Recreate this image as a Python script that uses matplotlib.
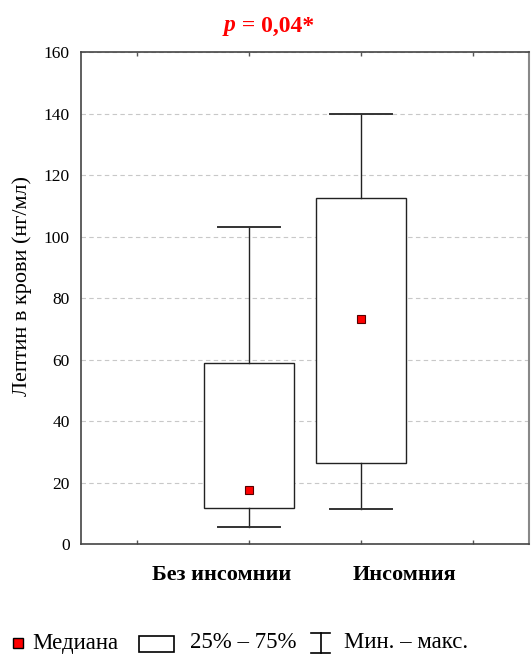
import matplotlib
matplotlib.use("Agg")
import matplotlib.pyplot as plt
from matplotlib.lines import Line2D
from matplotlib.patches import Rectangle

plt.rcParams["font.family"] = ["Liberation Serif", "DejaVu Serif"]

# Data
groups = ["Без инсомнии", "Инсомния"]
medians = [17.7, 73.2]
q1 = [11.7, 26.4]
q3 = [59.0, 112.7]
mins = [5.6, 11.6]
maxs = [103.3, 139.9]
positions = [1.5, 2.5]
y_ticks = [0, 20, 40, 60, 80, 100, 120, 140, 160]

W, H = 531, 655
fig = plt.figure(figsize=(W / 100, H / 100), dpi=100, facecolor="white")
ax = fig.add_axes([81 / W, (H - 544.3) / H, 448 / W, 492 / H])

stats = []
for g, m, lo, hi, mn, mx in zip(groups, medians, q1, q3, mins, maxs):
    stats.append(dict(label=g, med=m, q1=lo, q3=hi, whislo=mn, whishi=mx, fliers=[]))

ax.bxp(stats, positions=positions, widths=0.8, capwidths=0.55,
       showfliers=False, patch_artist=True,
       boxprops=dict(facecolor="white", edgecolor="#222222", linewidth=1.0),
       whiskerprops=dict(color="#222222", linewidth=1.0),
       capprops=dict(color="#333333", linewidth=1.4),
       medianprops=dict(linewidth=0, alpha=0),
       zorder=3)
ax.plot(positions, medians, ls="none", marker="s", markersize=5.5,
        markerfacecolor="#ff0000", markeredgecolor="#550000",
        markeredgewidth=0.8, zorder=5)

ax.set_xlim(0, 4)
ax.set_ylim(0, 160)
ax.set_xticks([0.5, 1.5, 2.5, 3.5])
ax.set_xticklabels([])
ax.set_yticks(y_ticks)
ax.set_yticklabels([str(v) for v in y_ticks], fontsize=12.5)
ax.tick_params(axis="x", direction="in", top=True, bottom=True, length=3,
               color="#555555", width=1.0)
ax.tick_params(axis="y", length=0, pad=8)
ax.grid(axis="y", color="#c8c8c8", ls=(0, (4, 3)), lw=0.8, zorder=0)
ax.set_axisbelow(True)
for s in ("left", "top", "bottom"):
    ax.spines[s].set_color("#444444")
    ax.spines[s].set_linewidth(1.2)
ax.spines["right"].set_color("#888888")
ax.spines["right"].set_linewidth(1.5)

ax.set_ylabel("Лептин в крови (нг/мл)", fontsize=16)
ax.yaxis.set_label_coords(-0.11, 0.525)

# Group labels (placed as in the original, offset from the boxes)
fig.text(222 / W, 1 - 575 / H, groups[0], ha="center", va="center",
         fontsize=16, fontweight="bold")
fig.text(404 / W, 1 - 575 / H, groups[1], ha="center", va="center",
         fontsize=16, fontweight="bold")

# Title: italic p, then the rest
tx, ty = 236 / W, 1 - 26 / H
fig.text(tx, ty, "p", ha="right", va="center", fontsize=17,
         fontweight="bold", fontstyle="italic", color="#ff0000")
fig.text(tx, ty, " = 0,04*", ha="left", va="center", fontsize=17,
         fontweight="bold", color="#ff0000")

# Legend
ly = 1 - 643 / H
fig.add_artist(Line2D([18 / W], [ly], marker="s", markersize=7,
                      markerfacecolor="#ff0000", markeredgecolor="black",
                      markeredgewidth=1.0, transform=fig.transFigure))
fig.text(32 / W, ly, "Медиана", ha="left", va="center", fontsize=16.5)
fig.add_artist(Rectangle((139 / W, 1 - 652 / H), 35 / W, 16 / H,
                         facecolor="white", edgecolor="black", linewidth=1.2,
                         transform=fig.transFigure))
fig.text(190 / W, ly, "25% – 75%", ha="left", va="center", fontsize=16.5)
ix = 320.5 / W
fig.add_artist(Line2D([ix, ix], [1 - 653 / H, 1 - 633 / H], color="black",
                      lw=1.2, transform=fig.transFigure))
for yy in (633, 653):
    fig.add_artist(Line2D([311 / W, 330 / W], [1 - yy / H, 1 - yy / H],
                          color="black", lw=1.2, transform=fig.transFigure))
fig.text(344 / W, ly, "Мин. – макс.", ha="left", va="center", fontsize=16.5)

fig.savefig("out.png", dpi=100, facecolor="white")
